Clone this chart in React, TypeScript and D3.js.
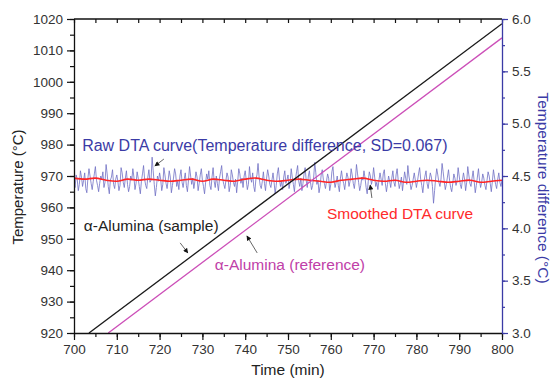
import React, { useEffect, useRef } from "react";
import * as d3 from "d3";

// axis ranges / ticks
const timeRange = [700, 800];
const tempRange = [920, 1020];
const diffRange = [3.0, 6.0];
const timeTicks = [700, 710, 720, 730, 740, 750, 760, 770, 780, 790, 800];
const tempTicks = [920, 930, 940, 950, 960, 970, 980, 990, 1000, 1010, 1020];
const diffTicks = [3.0, 3.5, 4.0, 4.5, 5.0, 5.5, 6.0];

// heating ramps (time, temperature)
const sampleTimes = [703.5, 800];
const sampleTemps = [920, 1018.5];
const referenceTimes = [708, 800];
const referenceTemps = [920, 1014];

// raw DTA signal, one reading every 0.25 min from 700
const rawStart = 700;
const rawStep = 0.25;
const rawDTA = [
  4.44, 4.39, 4.51, 4.47, 4.36, 4.42, 4.55, 4.49, 4.40, 4.46, 4.53, 4.38, 4.34, 4.48, 4.57, 4.50, 4.43, 4.37, 4.45, 4.52,
  4.59, 4.46, 4.41, 4.35, 4.43, 4.50, 4.47, 4.54, 4.39, 4.44, 4.61, 4.52, 4.40, 4.33, 4.46, 4.49, 4.56, 4.42, 4.38, 4.47,
  4.51, 4.45, 4.36, 4.41, 4.58, 4.53, 4.44, 4.39, 4.48, 4.55, 4.42, 4.35, 4.40, 4.50, 4.46, 4.57, 4.49, 4.37, 4.43, 4.54,
  4.48, 4.40, 4.33, 4.45, 4.52, 4.60, 4.47, 4.41, 4.38, 4.49, 4.56, 4.44, 4.46, 4.68, 4.55, 4.42, 4.31, 4.39, 4.50, 4.45,
  4.53, 4.47, 4.36, 4.42, 4.58, 4.51, 4.43, 4.38, 4.46, 4.55, 4.49, 4.34, 4.41, 4.48, 4.57, 4.52, 4.40, 4.45, 4.37, 4.50,
  4.56, 4.44, 4.39, 4.47, 4.53, 4.41, 4.35, 4.46, 4.59, 4.50, 4.42, 4.48, 4.38, 4.45, 4.54, 4.49, 4.36, 4.43, 4.51, 4.57,
  4.46, 4.40, 4.33, 4.44, 4.52, 4.47, 4.55, 4.41, 4.37, 4.49, 4.58, 4.45, 4.39, 4.50, 4.43, 4.36, 4.48, 4.54, 4.60, 4.47,
  4.42, 4.38, 4.46, 4.53, 4.49, 4.35, 4.41, 4.56, 4.51, 4.44, 4.40, 4.47, 4.34, 4.45, 4.57, 4.52, 4.43, 4.48, 4.39, 4.50,
  4.55, 4.46, 4.37, 4.42, 4.59, 4.48, 4.44, 4.53, 4.40, 4.35, 4.47, 4.51, 4.62, 4.49, 4.41, 4.38, 4.45, 4.54, 4.43, 4.36,
  4.48, 4.56, 4.50, 4.42, 4.39, 4.46, 4.53, 4.44, 4.33, 4.41, 4.52, 4.58, 4.47, 4.40, 4.45, 4.37, 4.49, 4.55, 4.43, 4.46,
  4.51, 4.38, 4.44, 4.57, 4.49, 4.42, 4.35, 4.47, 4.54, 4.60, 4.45, 4.40, 4.48, 4.36, 4.43, 4.52, 4.58, 4.46, 4.39, 4.50,
  4.55, 4.44, 4.37, 4.41, 4.49, 4.63, 4.53, 4.42, 4.46, 4.34, 4.40, 4.51, 4.56, 4.47, 4.43, 4.38, 4.45, 4.52, 4.48, 4.36,
  4.42, 4.54, 4.59, 4.46, 4.39, 4.44, 4.50, 4.41, 4.35, 4.48, 4.55, 4.47, 4.43, 4.37, 4.46, 4.53, 4.49, 4.40, 4.45, 4.57,
  4.51, 4.43, 4.38, 4.47, 4.61, 4.52, 4.44, 4.36, 4.41, 4.49, 4.46, 4.55, 4.48, 4.39, 4.33, 4.45, 4.54, 4.50, 4.42, 4.47,
  4.58, 4.49, 4.40, 4.44, 4.37, 4.46, 4.53, 4.47, 4.41, 4.52, 4.56, 4.43, 4.35, 4.42, 4.50, 4.45, 4.39, 4.48, 4.55, 4.44,
  4.40, 4.51, 4.57, 4.46, 4.38, 4.43, 4.49, 4.36, 4.45, 4.54, 4.48, 4.42, 4.60, 4.50, 4.44, 4.37, 4.41, 4.47, 4.53, 4.46,
  4.39, 4.45, 4.52, 4.58, 4.47, 4.41, 4.34, 4.44, 4.50, 4.55, 4.43, 4.38, 4.46, 4.53, 4.49, 4.40, 4.24, 4.36, 4.48, 4.57,
  4.51, 4.44, 4.40, 4.47, 4.62, 4.54, 4.45, 4.37, 4.42, 4.49, 4.56, 4.46, 4.39, 4.35, 4.43, 4.52, 4.48, 4.41, 4.45, 4.58,
  4.50, 4.42, 4.38, 4.46, 4.53, 4.47, 4.36, 4.44, 4.59, 4.51, 4.43, 4.40, 4.48, 4.55, 4.45, 4.34, 4.41, 4.49, 4.57, 4.46,
  4.39, 4.44, 4.52, 4.48, 4.41, 4.37, 4.46, 4.54, 4.50, 4.43, 4.35, 4.45, 4.56, 4.49, 4.42, 4.38, 4.47, 4.53, 4.44, 4.40,
  4.46,
];

// smoothed DTA, every 2.5 min from 700
const smoothStart = 700;
const smoothStep = 2.5;
const smoothDTA = [
  4.48, 4.47, 4.48, 4.46, 4.45, 4.47, 4.46, 4.47, 4.46, 4.45,
  4.46, 4.47, 4.45, 4.47, 4.46, 4.45, 4.47, 4.48, 4.46, 4.45,
  4.46, 4.47, 4.46, 4.45, 4.44, 4.46, 4.47, 4.48, 4.46, 4.45,
  4.46, 4.44, 4.45, 4.46, 4.45, 4.44, 4.45, 4.46, 4.44, 4.45,
  4.46,
];

const FONT = "'Liberation Sans', Arial, sans-serif";
const BLUE = "#3b3ba6";

const App = () => {
  const ref = useRef<HTMLDivElement>(null);

  useEffect(() => {
    const width = 553;
    const height = 381;
    const m = { top: 19, right: 51, bottom: 48, left: 74 };

    d3.select(ref.current).select("svg").remove();

    const svg = d3
      .select(ref.current)
      .append("svg")
      .attr("width", width)
      .attr("height", height)
      .style("position", "absolute")
      .style("left", 0)
      .style("top", 0)
      .style("font-family", FONT);

    svg.append("rect").attr("width", width).attr("height", height).attr("fill", "#fff");

    const x = d3.scaleLinear().domain(timeRange).range([m.left, width - m.right]);
    const y = d3.scaleLinear().domain(tempRange).range([height - m.bottom, m.top]);
    const y2 = d3.scaleLinear().domain(diffRange).range([height - m.bottom, m.top]);

    const defs = svg.append("defs");
    defs
      .append("marker")
      .attr("id", "head")
      .attr("viewBox", "0 0 10 10")
      .attr("refX", 9)
      .attr("refY", 5)
      .attr("markerWidth", 7)
      .attr("markerHeight", 5)
      .attr("orient", "auto")
      .attr("markerUnits", "userSpaceOnUse")
      .append("path")
      .attr("d", "M0,0 L10,5 L0,10 z")
      .attr("fill", "#111");

    defs
      .append("clipPath")
      .attr("id", "plot")
      .append("rect")
      .attr("x", m.left)
      .attr("y", m.top)
      .attr("width", width - m.left - m.right)
      .attr("height", height - m.top - m.bottom);

    const plot = svg.append("g").attr("clip-path", "url(#plot)");

    // raw DTA
    const rawLine = d3
      .line<number>()
      .x((_, i) => x(rawStart + i * rawStep))
      .y((d) => y2(d));
    plot
      .append("path")
      .attr("d", rawLine(rawDTA))
      .attr("fill", "none")
      .attr("stroke", "#7070c4")
      .attr("stroke-width", 0.8);

    // smoothed DTA
    const smoothLine = d3
      .line<number>()
      .x((_, i) => x(smoothStart + i * smoothStep))
      .y((d) => y2(d))
      .curve(d3.curveCatmullRom);
    plot
      .append("path")
      .attr("d", smoothLine(smoothDTA))
      .attr("fill", "none")
      .attr("stroke", "#ff2424")
      .attr("stroke-width", 1.6);

    // temperature ramps
    const drawRamp = (ts: number[], vs: number[], color: string) => {
      const pts = ts.map((t, i) => [x(t), y(vs[i])] as [number, number]);
      plot
        .append("path")
        .attr("d", d3.line()(pts))
        .attr("fill", "none")
        .attr("stroke", color)
        .attr("stroke-width", 1.3);
    };
    drawRamp(referenceTimes, referenceTemps, "#cc4fb8");
    drawRamp(sampleTimes, sampleTemps, "#1a1a1a");

    // axes
    const minorTime = d3.range(700, 800.01, 5);
    const minorTemp = d3.range(920, 1020.01, 5);
    const minorDiff = d3.range(3.0, 6.01, 0.25);

    const bottom = svg.append("g").attr("transform", `translate(0,${height - m.bottom})`);
    bottom
      .call(d3.axisBottom(x).tickValues(minorTime).tickSize(4).tickFormat(() => ""))
      .call((g) => g.select(".domain").remove());
    const bottomMajor = svg
      .append("g")
      .attr("transform", `translate(0,${height - m.bottom})`)
      .call(d3.axisBottom(x).tickValues(timeTicks).tickSize(7).tickSizeOuter(0).tickPadding(4).tickFormat(d3.format("d")));

    const top = svg
      .append("g")
      .attr("transform", `translate(0,${m.top})`)
      .call(d3.axisBottom(x).tickValues(minorTime).tickSize(4).tickSizeOuter(0).tickFormat(() => ""));
    top.select(".domain").remove();
    svg
      .append("line")
      .attr("x1", m.left)
      .attr("x2", width - m.right)
      .attr("y1", m.top)
      .attr("y2", m.top)
      .attr("stroke", "#111")
      .attr("stroke-width", 1.3);

    const left = svg.append("g").attr("transform", `translate(${m.left},0)`);
    left
      .call(d3.axisLeft(y).tickValues(minorTemp).tickSize(4).tickFormat(() => ""))
      .call((g) => g.select(".domain").remove());
    const leftMajor = svg
      .append("g")
      .attr("transform", `translate(${m.left},0)`)
      .call(d3.axisLeft(y).tickValues(tempTicks).tickSize(7).tickSizeOuter(0).tickPadding(4).tickFormat(d3.format("d")));

    const right = svg.append("g").attr("transform", `translate(${width - m.right},0)`);
    right
      .call(d3.axisRight(y2).tickValues(minorDiff).tickSize(3).tickFormat(() => ""))
      .call((g) => g.select(".domain").remove());
    const rightMajor = svg
      .append("g")
      .attr("transform", `translate(${width - m.right},0)`)
      .call(d3.axisRight(y2).tickValues(diffTicks).tickSize(6).tickSizeOuter(0).tickPadding(4).tickFormat(d3.format(".1f")));

    [bottom, bottomMajor, left, leftMajor, top].forEach((g) => {
      g.selectAll("line").attr("stroke", "#111").attr("stroke-width", 1.2);
      g.selectAll(".domain").attr("stroke", "#111").attr("stroke-width", 1.3);
    });
    [right, rightMajor].forEach((g) => {
      g.selectAll("line").attr("stroke", BLUE).attr("stroke-width", 1.2);
      g.selectAll(".domain").attr("stroke", BLUE).attr("stroke-width", 1.3);
    });
    [bottomMajor, leftMajor, rightMajor].forEach((g) => {
      g.selectAll("text")
        .attr("fill", "#333")
        .style("font-size", "13.5px")
        .style("font-family", FONT);
    });

    // axis titles
    svg
      .append("text")
      .attr("x", 288)
      .attr("y", 375)
      .attr("text-anchor", "middle")
      .attr("fill", "#222")
      .style("font-size", "15.5px")
      .text("Time (min)");

    svg
      .append("text")
      .attr("transform", `translate(23,187) rotate(-90)`)
      .attr("text-anchor", "middle")
      .attr("fill", "#222")
      .style("font-size", "15px")
      .text("Temperature (°C)");

    svg
      .append("text")
      .attr("transform", `translate(538,188) rotate(90)`)
      .attr("text-anchor", "middle")
      .attr("fill", BLUE)
      .style("font-size", "15.5px")
      .text("Temperature difference  (°C)");

    // annotations
    const labels = [
      { t: 701.9, v: 978.0, text: "Raw DTA curve(Temperature difference, SD=0.067)", color: BLUE, size: 16 },
      { t: 702.3, v: 952.6, text: "α-Alumina (sample)", color: "#222", size: 15.5 },
      { t: 732.9, v: 940.2, text: "α-Alumina (reference)", color: "#c040a8", size: 15.5 },
      { t: 759.1, v: 956.3, text: "Smoothed DTA curve", color: "#ff2a2a", size: 15.5 },
    ];
    svg
      .append("g")
      .selectAll("text")
      .data(labels)
      .join("text")
      .attr("x", (d) => x(d.t))
      .attr("y", (d) => y(d.v))
      .attr("fill", (d) => d.color)
      .style("font-size", (d) => `${d.size}px`)
      .text((d) => d.text);

    const arrows = [
      { t1: 721.0, v1: 975.4, t2: 718.9, v2: 973.2 },
      { t1: 724.8, v1: 948.7, t2: 726.6, v2: 945.5 },
      { t1: 742.8, v1: 945.5, t2: 740.4, v2: 950.9 },
      { t1: 769.6, v1: 963.0, t2: 769.2, v2: 967.1 },
    ];
    svg
      .append("g")
      .selectAll("line")
      .data(arrows)
      .join("line")
      .attr("x1", (d) => x(d.t1))
      .attr("y1", (d) => y(d.v1))
      .attr("x2", (d) => x(d.t2))
      .attr("y2", (d) => y(d.v2))
      .attr("stroke", "#555")
      .attr("stroke-width", 0.9)
      .attr("marker-end", "url(#head)");
  }, []);

  return <div ref={ref} />;
};

export default App;
